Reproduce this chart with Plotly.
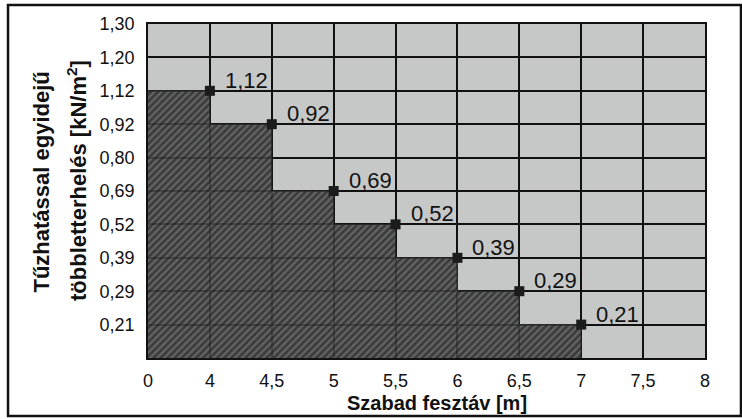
import plotly.graph_objects as go

# ---- data ----
x_ticks = [0, 4, 4.5, 5, 5.5, 6, 6.5, 7, 7.5, 8]          # evenly spaced tick labels
y_ticks = [0.21, 0.29, 0.39, 0.52, 0.69, 0.80, 0.92, 1.12, 1.20, 1.30]
span_m = [4, 4.5, 5, 5.5, 6, 6.5, 7]                        # Szabad fesztáv [m]
load_kn = [1.12, 0.92, 0.69, 0.52, 0.39, 0.29, 0.21]        # többletterhelés [kN/m2]


def fmt_x(v):
    return ("%d" % v) if float(v).is_integer() else ("%.1f" % v).replace(".", ",")


def fmt_y(v):
    return ("%.2f" % v).replace(".", ",")


x_text = [fmt_x(v) for v in x_ticks]
y_text = [fmt_y(v) for v in y_ticks]

# positions on the (evenly spaced) axes
x_pos = list(range(len(x_ticks)))
y_pos = list(range(1, len(y_ticks) + 1))
xi = [x_ticks.index(v) for v in span_m]
yi = [y_pos[y_ticks.index(v)] for v in load_kn]
labels = [fmt_y(v) for v in load_kn]

FONT = "Liberation Sans, Arial, sans-serif"

fig = go.Figure()

# hatched step area
fig.add_trace(go.Scatter(
    x=[0] + xi, y=[yi[0]] + yi,
    mode="lines", line=dict(shape="vh", color="#2a2a2a", width=1),
    fill="tozeroy",
    fillpattern=dict(shape="/", size=5, solidity=0.5,
                     fgcolor="#121212", bgcolor="rgba(80,80,80,0.85)"),
    hoverinfo="skip", showlegend=False,
))

# markers
fig.add_trace(go.Scatter(
    x=xi, y=yi, mode="markers",
    marker=dict(symbol="square", size=10, color="#1c1c1c"),
    showlegend=False, hoverinfo="skip",
))

# value labels
for x, y, t in zip(xi, yi, labels):
    fig.add_annotation(x=x, y=y, text=t, showarrow=False,
                       xanchor="left", yanchor="bottom",
                       xshift=13, yshift=-4,
                       font=dict(family=FONT, size=22, color="#111111"))

font_tick = dict(family=FONT, size=18, color="#111111")

fig.update_layout(
    width=742, height=419,
    margin=dict(l=148, r=37, t=24, b=61),
    paper_bgcolor="white",
    plot_bgcolor="#c6c8c8",
    showlegend=False,
    xaxis=dict(
        range=[0, len(x_ticks) - 1], tickmode="array",
        tickvals=x_pos, ticktext=x_text, tickfont=font_tick,
        showgrid=True, gridcolor="#111111", gridwidth=1.5,
        showline=True, linecolor="#111111", linewidth=1.5, mirror=True,
        zeroline=False, ticks="", ticklabelstandoff=6,
    ),
    yaxis=dict(
        range=[0, len(y_ticks)], tickmode="array",
        tickvals=y_pos, ticktext=y_text, tickfont=font_tick,
        showgrid=True, gridcolor="#111111", gridwidth=1.5,
        showline=True, linecolor="#111111", linewidth=1.5, mirror=True,
        zeroline=False, ticks="", ticklabelstandoff=8,
    ),
)

fig.add_annotation(xref="paper", yref="paper", x=0.519, y=-0.136,
                   text="<b>Szabad fesztáv [m]</b>", showarrow=False,
                   xanchor="center", yanchor="middle",
                   font=dict(family=FONT, size=20, color="#111111"))
fig.add_annotation(xref="paper", yref="paper", x=-0.1903, y=0.5254,
                   text="<b>Tűzhatással egyidejű</b>", showarrow=False,
                   textangle=-90, xanchor="center", yanchor="middle",
                   font=dict(family=FONT, size=22, color="#111111"))
fig.add_annotation(xref="paper", yref="paper", x=-0.1275, y=0.533,
                   text="<b>többletterhelés [kN/m<sup>2</sup>]</b>", showarrow=False,
                   textangle=-90, xanchor="center", yanchor="middle",
                   font=dict(family=FONT, size=22, color="#111111"))

# outer frame
fig.add_shape(type="rect", xref="paper", yref="paper",
              x0=-0.2513, x1=1.0646, y0=-0.1737, y1=1.0569,
              line=dict(color="#111111", width=2.5), layer="below")

fig.write_html("out.html", config={"displayModeBar": False},
               post_script="document.body.style.margin='0';")
